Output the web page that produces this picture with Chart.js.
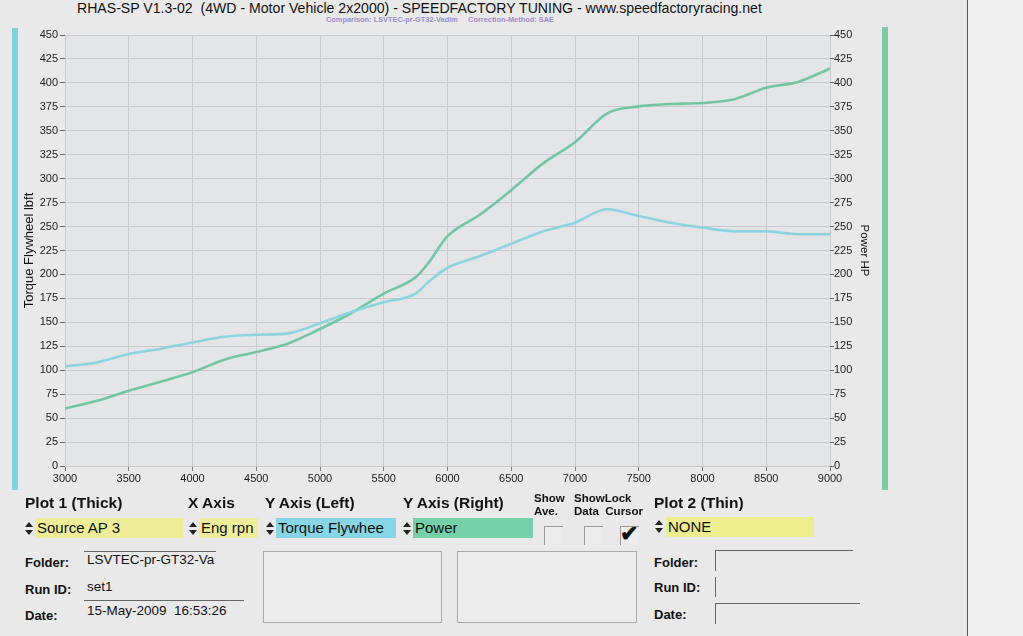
<!DOCTYPE html>
<html><head><meta charset="utf-8">
<script src="https://cdn.jsdelivr.net/npm/chart.js@4.4.1/dist/chart.umd.min.js"></script>
<style>
html,body{margin:0;padding:0;}
body{width:1023px;height:636px;background:#e9e9ea;position:relative;overflow:hidden;font-family:"Liberation Sans",Arial,sans-serif;color:#111;}
#wrap{position:absolute;left:0;top:0;width:900px;height:495px;}
.abs{position:absolute;white-space:nowrap;}
.hd{font-weight:bold;font-size:15.5px;}
.sm{font-weight:bold;font-size:11.5px;line-height:13px;}
.fld{position:absolute;height:20px;font-size:15px;line-height:20px;padding-left:2px;}
.lbl{font-weight:bold;font-size:13px;}
.val{font-size:13.5px;}
.cb{position:absolute;width:18px;height:18px;border-left:1px solid #999;border-top:1px solid #999;background:#ececec;}
.box{position:absolute;border:1px solid #aaa;background:#ececed;}
.hl{position:absolute;height:1px;background:#666;}
.vl{position:absolute;width:1px;background:#666;}
.spin{position:absolute;width:9px;height:14px;}
.spin:before{content:"";position:absolute;left:0;top:0;border-left:4.5px solid transparent;border-right:4.5px solid transparent;border-bottom:5px solid #222;}
.spin:after{content:"";position:absolute;left:0;top:8px;border-left:4.5px solid transparent;border-right:4.5px solid transparent;border-top:5px solid #222;}
</style></head>
<body>
<div class="abs" style="left:967px;top:0;width:56px;height:636px;background:#efefef;"></div>
<div class="abs" style="left:967px;top:0;width:1px;height:636px;background:#555;"></div>
<div class="abs" style="left:12px;top:28px;width:6px;height:462px;background:#7fd3e0;"></div>
<div class="abs" style="left:882px;top:27px;width:6px;height:463px;background:#7ecaa4;"></div>
<div id="title" class="abs" style="left:77px;top:0px;font-size:14.1px;">RHAS-SP V1.3-02&nbsp; (4WD - Motor Vehicle 2x2000) - SPEEDFACTORY TUNING - www.speedfactoryracing.net</div>
<div class="abs" style="left:326px;top:15px;font-size:7.4px;font-weight:bold;color:#9a90cc;">Comparison: LSVTEC-pr-GT32-Vadim&nbsp;&nbsp;&nbsp;&nbsp; Correction-Method: SAE</div>
<div id="wrap"><canvas id="c" width="900" height="495"></canvas></div>

<div class="abs hd" style="left:25px;top:494px;">Plot 1 (Thick)</div>
<div class="abs hd" style="left:188px;top:494px;">X Axis</div>
<div class="abs hd" style="left:265px;top:494px;">Y Axis (Left)</div>
<div class="abs hd" style="left:403px;top:494px;">Y Axis (Right)</div>
<div class="abs sm" style="left:534px;top:492px;">Show<br>Ave.</div>
<div class="abs sm" style="left:574px;top:492px;">ShowLock<br>Data&nbsp; Cursor</div>
<div class="abs hd" style="left:654px;top:494px;">Plot 2 (Thin)</div>

<div class="spin" style="left:25px;top:522px;"></div>
<div class="fld" style="left:35px;top:518px;width:146px;background:#eeee98;">Source AP 3</div>
<div class="spin" style="left:189px;top:522px;"></div>
<div class="fld" style="left:199px;top:518px;width:57px;background:#eeee9a;overflow:hidden;">Eng rpn</div>
<div class="spin" style="left:266px;top:522px;"></div>
<div class="fld" style="left:276px;top:518px;width:118px;background:#86d6e6;overflow:hidden;">Torque Flywhee</div>
<div class="spin" style="left:403px;top:522px;"></div>
<div class="fld" style="left:413px;top:518px;width:118px;background:#74d0a8;">Power</div>
<div class="cb" style="left:544px;top:526px;"></div>
<div class="cb" style="left:584px;top:526px;"></div>
<div class="cb" style="left:620px;top:526px;"></div>
<div class="abs" style="left:620px;top:521px;font-size:22px;font-weight:bold;">&#x2714;</div>
<div class="spin" style="left:655px;top:520px;"></div>
<div class="fld" style="left:666px;top:517px;width:146px;background:#eeee90;">NONE</div>

<div class="abs lbl" style="left:25px;top:555px;">Folder:</div>
<div class="hl" style="left:84px;top:551px;width:132px;"></div>
<div class="abs val" style="left:87px;top:552px;">LSVTEC-pr-GT32-Va</div>
<div class="abs lbl" style="left:25px;top:582px;">Run ID:</div>
<div class="abs val" style="left:87px;top:579px;">set1</div>
<div class="abs lbl" style="left:25px;top:608px;">Date:</div>
<div class="hl" style="left:84px;top:600px;width:160px;"></div>
<div class="abs val" style="left:87px;top:603px;">15-May-2009&nbsp; 16:53:26</div>
<div class="box" style="left:263px;top:551px;width:177px;height:70px;"></div>
<div class="box" style="left:457px;top:551px;width:178px;height:70px;"></div>

<div class="abs lbl" style="left:654px;top:555px;">Folder:</div>
<div class="hl" style="left:715px;top:550px;width:138px;"></div>
<div class="vl" style="left:715px;top:551px;height:20px;"></div>
<div class="abs lbl" style="left:654px;top:580px;">Run ID:</div>
<div class="vl" style="left:715px;top:577px;height:20px;"></div>
<div class="abs lbl" style="left:654px;top:607px;">Date:</div>
<div class="hl" style="left:715px;top:603px;width:145px;"></div>
<div class="vl" style="left:715px;top:604px;height:20px;"></div>

<script>
const rpm = [3000,3250,3500,3750,4000,4250,4500,4750,5000,5250,5500,5750,5850,6000,6250,6500,6750,7000,7250,7500,7750,8000,8250,8500,8750,9000];
const torque = [104,108,117,122.5,129,135,137,138.5,149,161,171,180,192,207,219,232,245,254,268,261,254,249,245,245,242,242];
const power = [60,68,78.5,88,98,111,119,128,143,160,180,197,212,240,262,288,316,338,368,375.5,378,379,383,395,401,415];
const xTicks = [3000,3500,4000,4500,5000,5500,6000,6500,7000,7500,8000,8500,9000];

const toXY = (ys) => rpm.map((r,i)=>({x:r,y:ys[i]}));

const bgPlugin = {
  id:'bg',
  beforeDraw(chart){
    const {ctx, chartArea:a} = chart;
    ctx.save(); ctx.fillStyle='#e4e5e7'; ctx.fillRect(a.left,a.top,a.right-a.left,a.bottom-a.top); ctx.restore();
  }
};

new Chart(document.getElementById('c'), {
  type:'line',
  data:{datasets:[
    {label:'Torque Flywheel lbft', data:toXY(torque), yAxisID:'yL', borderColor:'#8dd4e2', borderWidth:2.6, pointRadius:0, cubicInterpolationMode:'monotone', fill:false},
    {label:'Power HP', data:toXY(power), yAxisID:'yR', borderColor:'#72c6a2', borderWidth:2.6, pointRadius:0, cubicInterpolationMode:'monotone', fill:false}
  ]},
  options:{
    responsive:false, animation:false, events:[],
    layout:{padding:{left:22,right:29,top:35,bottom:9}},
    plugins:{legend:{display:false},tooltip:{enabled:false}},
    scales:{
      x:{type:'linear',min:3000,max:9000,
        afterBuildTicks(s){s.ticks=xTicks.map(v=>({value:v}));},
        afterFit(s){s.height=20;},
        grid:{color:'#c9cacd',lineWidth:1,tickLength:5,tickColor:'#777'},
        border:{display:false},
        ticks:{color:'#222',font:{family:'Liberation Sans',size:11},padding:1,maxRotation:0,autoSkip:false,callback:(v)=>String(v)}
      },
      yL:{position:'left',min:0,max:450,
        afterFit(s){s.width=43;},
        grid:{color:'#c9cacd',lineWidth:1,tickLength:5,tickColor:'#666'},
        border:{display:false},
        ticks:{stepSize:25,color:'#222',font:{family:'Liberation Sans',size:11},padding:2},
        title:{display:true,text:'Torque Flywheel lbft',color:'#111',font:{family:'Liberation Sans',size:13},padding:{top:0,bottom:0}}
      },
      yR:{position:'right',min:0,max:450,
        afterFit(s){s.width=41;},
        grid:{drawOnChartArea:false,tickLength:4,tickColor:'#666'},
        border:{display:false},
        ticks:{stepSize:25,color:'#222',font:{family:'Liberation Sans',size:11},padding:0},
        title:{display:true,text:'Power HP',color:'#111',font:{family:'Liberation Sans',size:11.5},padding:{top:0,bottom:0}}
      }
    }
  },
  plugins:[bgPlugin]
});
</script>
</body></html>
